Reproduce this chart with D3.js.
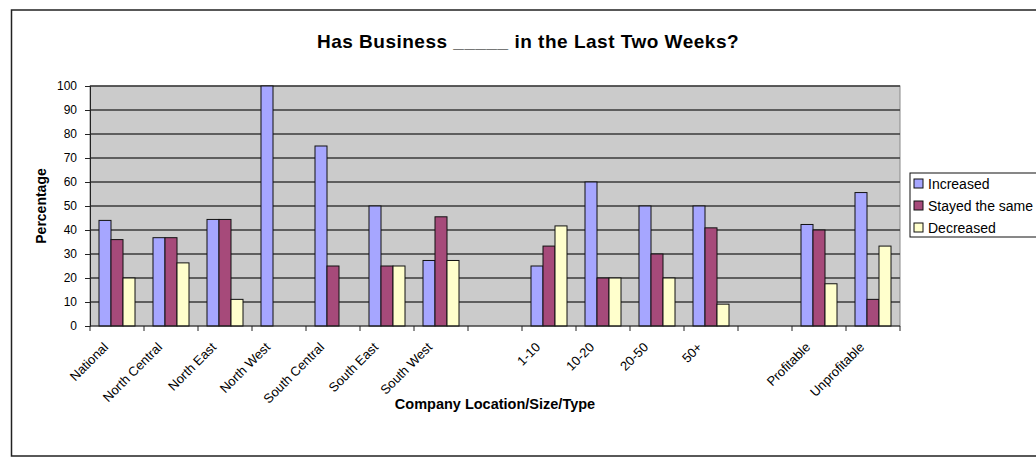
<!DOCTYPE html>
<html>
<head>
<meta charset="utf-8">
<script src="https://cdn.jsdelivr.net/npm/d3@7"></script>
<style>
  html, body { margin: 0; padding: 0; background: #fff; }
  svg { display: block; font-family: "Liberation Sans", Arial, sans-serif; }
</style>
</head>
<body>
<svg id="chart" width="1036" height="459"></svg>
<script>
const categories = ["National", "North Central", "North East", "North West", "South Central", "South East", "South West", "", "1-10", "10-20", "20-50", "50+", "", "Profitable", "Unprofitable"];
const seriesNames = ["Increased", "Stayed the same", "Decreased"];
const increased = [44, 36.8, 44.4, 100, 75, 50, 27.3, null, 25, 60, 50, 50, null, 42.3, 55.6];
const stayed    = [36, 36.8, 44.4, 0, 25, 25, 45.5, null, 33.3, 20, 30, 40.9, null, 40, 11.1];
const decreased = [20, 26.3, 11.1, 0, 0, 25, 27.3, null, 41.7, 20, 20, 9.1, null, 17.6, 33.3];
const yTicks = [0, 10, 20, 30, 40, 50, 60, 70, 80, 90, 100];
const colors = ["#A6A6FF", "#A64A7A", "#FFFFCC"];

const svg = d3.select("#chart");
const plot = {left: 90, right: 900, top: 86, bottom: 326};

// outer chart border
svg.append("rect").attr("x", 11.5).attr("y", 10).attr("width", 1040).attr("height", 446)
  .attr("fill", "#fff").attr("stroke", "#222").attr("stroke-width", 1.5);

const idx = categories.map((d, i) => i);
const x0 = d3.scaleBand().domain(idx).range([plot.left, plot.right]).padding(0);
const x1 = d3.scaleBand().domain(d3.range(3)).range([0, x0.bandwidth()]).paddingInner(0).paddingOuter(0.75);
const y = d3.scaleLinear().domain([0, 100]).range([plot.bottom, plot.top]);

// plot background
svg.append("rect").attr("x", plot.left).attr("y", plot.top)
  .attr("width", plot.right - plot.left).attr("height", plot.bottom - plot.top)
  .attr("fill", "#CBCBCB").attr("stroke", "#888").attr("stroke-width", 1);

// gridlines
svg.append("g").selectAll("line").data(yTicks.filter(d => d > 0)).join("line")
  .attr("x1", plot.left).attr("x2", plot.right)
  .attr("y1", d => y(d)).attr("y2", d => y(d))
  .attr("stroke", "#3a3a3a").attr("stroke-width", 1.3);

// bars
const seriesData = [increased, stayed, decreased];
const barG = svg.append("g");
seriesData.forEach((vals, s) => {
  barG.append("g").selectAll("rect")
    .data(vals.map((v, i) => ({i, v})).filter(d => d.v))
    .join("rect")
    .attr("x", d => x0(d.i) + x1(s))
    .attr("y", d => y(d.v))
    .attr("width", x1.bandwidth())
    .attr("height", d => y(0) - y(d.v))
    .attr("fill", colors[s]).attr("stroke", "#111").attr("stroke-width", 1);
});

// y axis
const yAxis = d3.axisLeft(y).tickValues(yTicks).tickSize(5).tickPadding(8);
const gy = svg.append("g").attr("transform", `translate(${plot.left},0)`).call(yAxis);
gy.select(".domain").attr("stroke", "#222");
gy.selectAll(".tick line").attr("stroke", "#222");
gy.selectAll("text").attr("font-size", 12).attr("fill", "#000").attr("font-family", "Liberation Sans, Arial, sans-serif");

// x axis: ticks at category boundaries
const gx = svg.append("g").attr("transform", `translate(0,${plot.bottom})`);
gx.append("line").attr("x1", plot.left).attr("x2", plot.right).attr("y1", 0).attr("y2", 0).attr("stroke", "#222");
const bounds = idx.map(i => x0(i)).concat([plot.right]);
gx.selectAll("line.tk").data(bounds).join("line").attr("class", "tk")
  .attr("x1", d => d).attr("x2", d => d).attr("y1", 0).attr("y2", 5).attr("stroke", "#222");
gx.selectAll("text").data(idx.filter(i => categories[i])).join("text")
  .attr("transform", i => `translate(${x0(i) + x0.bandwidth() / 2 - 8},${22}) rotate(-45)`)
  .attr("text-anchor", "end").attr("font-size", 13).attr("fill", "#000")
  .text(i => categories[i]);

// title
svg.append("text").attr("x", 528).attr("y", 48).attr("text-anchor", "middle")
  .attr("font-size", 19).attr("font-weight", "bold").attr("letter-spacing", 0.5)
  .text("Has Business _____ in the Last Two Weeks?");

// axis titles
svg.append("text").attr("transform", "translate(46,206) rotate(-90)").attr("text-anchor", "middle")
  .attr("font-size", 14).attr("font-weight", "bold").text("Percentage");
svg.append("text").attr("x", 495).attr("y", 409).attr("text-anchor", "middle")
  .attr("font-size", 14.5).attr("font-weight", "bold").text("Company Location/Size/Type");

// legend
const lg = svg.append("g").attr("transform", "translate(910,173)");
lg.append("rect").attr("x", 0).attr("y", 0).attr("width", 140).attr("height", 64)
  .attr("fill", "#fff").attr("stroke", "#111").attr("stroke-width", 1);
seriesNames.forEach((n, s) => {
  const row = lg.append("g").attr("transform", `translate(4,${10.5 + s * 22})`);
  row.append("rect").attr("x", 0).attr("y", -4.5).attr("width", 9).attr("height", 9)
    .attr("fill", colors[s]).attr("stroke", "#111").attr("stroke-width", 1);
  row.append("text").attr("x", 14).attr("y", 5).attr("font-size", 14).text(n);
});
</script>
</body>
</html>
